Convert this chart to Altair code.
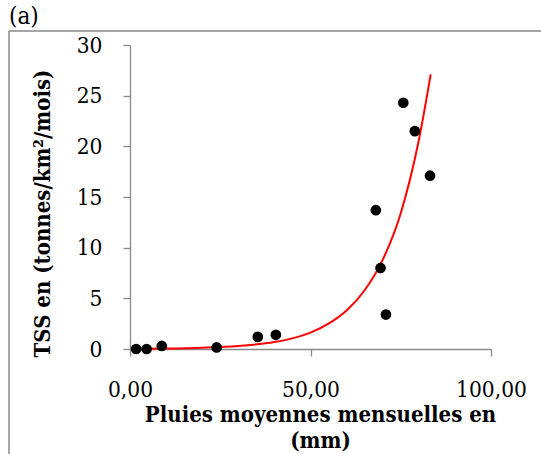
import altair as alt
import pandas as pd

pluie_obs = [1.7, 4.6, 8.8, 24.0, 35.4, 40.4, 68.1, 69.4, 70.9, 75.7, 78.9, 83.1]
tss_obs = [0.0, 0.0, 0.3, 0.15, 1.2, 1.4, 13.7, 8.0, 3.4, 24.3, 21.5, 17.1]

# Trend curve
pluie_fit = [1.7, 10, 20, 30, 40, 45, 50, 55, 60, 65, 70, 75, 80, 83.3]
tss_fit = [0.03, 0.05, 0.13, 0.30, 0.69, 1.05, 1.62, 2.5, 3.8, 5.8, 8.8, 13.4, 20.6, 27.1]

x_ticks = [0, 50, 100]
y_ticks = [0, 5, 10, 15, 20, 25, 30]

FONT = "DejaVu Serif Condensed"
GREY = "#898989"

obs = pd.DataFrame({"x": pluie_obs, "y": tss_obs})
fit = pd.DataFrame({"x": pluie_fit, "y": tss_fit})
lab = pd.DataFrame({"t": ["(a)"]})

xscale = alt.Scale(domain=[0, 100], nice=False, zero=True)
yscale = alt.Scale(domain=[0, 30], nice=False, zero=True)

xaxis = alt.Axis(
    values=x_ticks,
    title=["Pluies moyennes mensuelles en", "(mm)"],
    labelExpr="replace(format(datum.value, '.2f'), '.', ',')",
    grid=False,
    domainColor=GREY, tickColor=GREY, tickSize=7, domainWidth=1.3, tickWidth=1.3,
    labelFont=FONT, labelFontSize=22.5, labelColor="black",
    labelBaseline="alphabetic", labelPadding=40, labelFlush=False, labelOverlap=False,
    titleFont=FONT, titleFontSize=22, titleFontWeight="bold", titleColor="black",
    titleX=190, titleY=72, titleBaseline="alphabetic", titleAlign="center",
    titleLineHeight=26,
)
yaxis = alt.Axis(
    values=y_ticks,
    title="TSS en (tonnes/km²/mois)",
    grid=False,
    domainColor=GREY, tickColor=GREY, tickSize=7, domainWidth=1.3, tickWidth=1.3,
    labelFont=FONT, labelFontSize=22.5, labelColor="black", labelPadding=21,
    labelFlush=False, labelOverlap=False,
    titleFont=FONT, titleFontSize=22, titleFontWeight="bold", titleColor="black",
    titleAngle=270, titleX=-81, titleY=168, titleBaseline="alphabetic", titleAlign="center",
)

points = alt.Chart(obs).mark_circle(size=115, color="black", opacity=1).encode(
    x=alt.X("x:Q", scale=xscale, axis=xaxis),
    y=alt.Y("y:Q", scale=yscale, axis=yaxis),
)

curve = alt.Chart(fit).mark_line(color="#ff0000", strokeWidth=2, interpolate="monotone").encode(
    x=alt.X("x:Q", scale=xscale),
    y=alt.Y("y:Q", scale=yscale),
)

frame_top = alt.Chart(lab).mark_rule(color=GREY, strokeWidth=1.5).encode(
    x=alt.value(-121), x2=alt.value(420), y=alt.value(-14)
)
frame_left = alt.Chart(lab).mark_rule(color=GREY, strokeWidth=1.5).encode(
    x=alt.value(-121), y=alt.value(-14), y2=alt.value(420)
)
label_a = alt.Chart(lab).mark_text(
    font=FONT, fontSize=24, align="left", baseline="alphabetic", color="black"
).encode(text="t:N", x=alt.value(-121), y=alt.value(-21))

chart = alt.layer(frame_top, frame_left, label_a, curve, points).properties(
    width=361, height=304,
    autosize=alt.AutoSizeParams(type="none"),
    padding={"left": 130, "top": 45, "right": 50, "bottom": 105},
    background="white",
).configure_view(stroke=None)

chart.save("out.html", embed_options={"renderer": "svg", "actions": False})
